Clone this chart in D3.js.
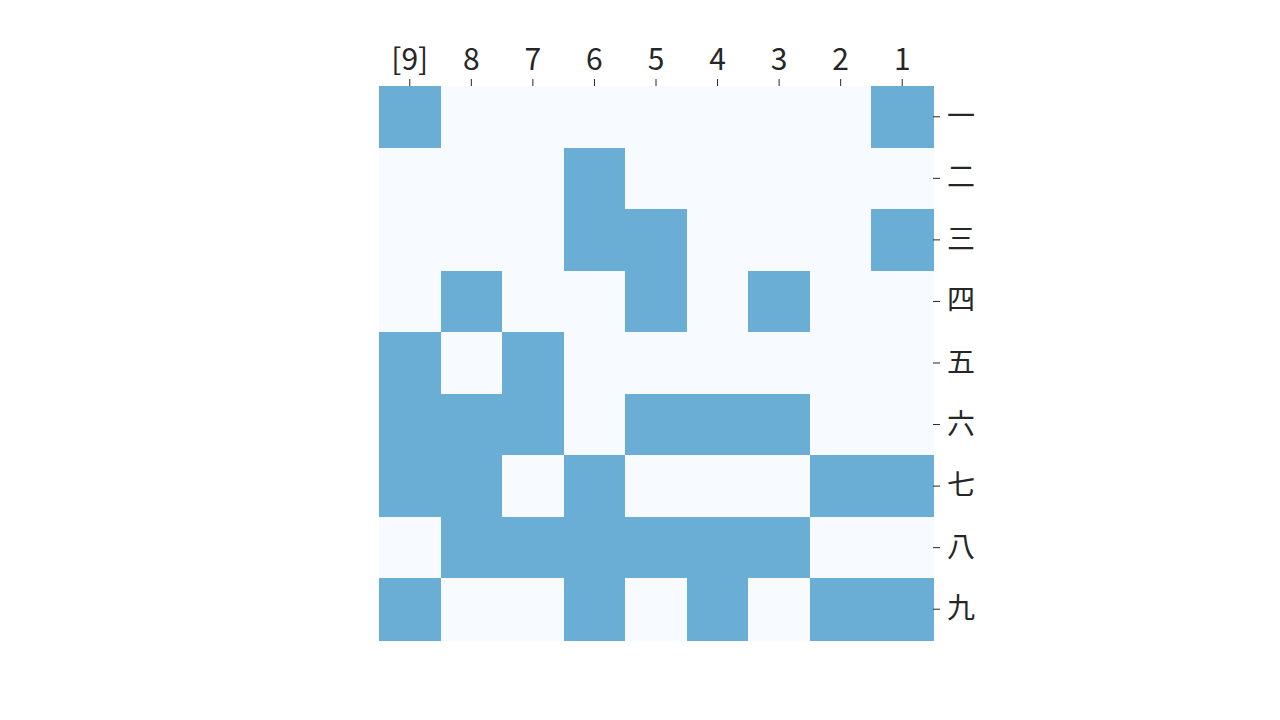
<!DOCTYPE html>
<html><head><meta charset="utf-8">
<script src="https://cdn.jsdelivr.net/npm/d3@7"></script>
<style>body{margin:0;background:#fff;} svg{display:block;}</style>
</head><body>
<svg id="c" width="1280" height="720"></svg>
<script>
const colLabels = ["[9]","8","7","6","5","4","3","2","1"];
const rowLabels = ["一","二","三","四","五","六","七","八","九"];
const grid = [
  [1,0,0,0,0,0,0,0,1],
  [0,0,0,1,0,0,0,0,0],
  [0,0,0,1,1,0,0,0,1],
  [0,1,0,0,1,0,1,0,0],
  [1,0,1,0,0,0,0,0,0],
  [1,1,1,0,1,1,1,0,0],
  [1,1,0,1,0,0,0,1,1],
  [0,1,1,1,1,1,1,0,0],
  [1,0,0,1,0,1,0,1,1]
];
const cells = [];
grid.forEach((row,i)=>row.forEach((v,j)=>cells.push({r:rowLabels[i],c:colLabels[j],v})));

const svg = d3.select("#c");
const x = d3.scaleBand().domain(colLabels).range([379,933]);
const y = d3.scaleBand().domain(rowLabels).range([86,640]);
const color = d3.scaleOrdinal().domain([0,1]).range(["#f7fbff","#6aaed6"]);

svg.append("g").attr("shape-rendering","crispEdges").selectAll("rect").data(cells).join("rect")
  .attr("x",d=>x(d.c)).attr("y",d=>y(d.r))
  .attr("width",x.bandwidth()+0.5).attr("height",y.bandwidth()+0.5)
  .attr("fill",d=>color(d.v));

const font = "'Noto Sans CJK JP','Noto Sans',sans-serif";
const gx = svg.append("g").attr("transform","translate(0,86)")
  .call(d3.axisTop(x).tickSize(7).tickPadding(9));
const gy = svg.append("g").attr("transform","translate(933,0)")
  .call(d3.axisRight(y).tickSize(7).tickPadding(7));
[gx,gy].forEach(g=>{
  g.select(".domain").remove();
  g.selectAll("line").attr("stroke","#262626").attr("stroke-width",1);
  g.selectAll("text").attr("fill","#262626").style("font-family",font).style("font-weight","400");
});
gx.selectAll("text").style("font-size","30px");
gy.selectAll("text").style("font-size","28px");
</script>
</body></html>
